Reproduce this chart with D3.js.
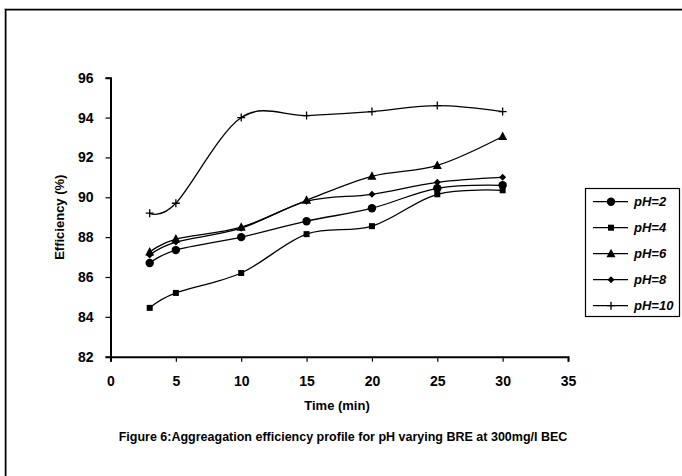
<!DOCTYPE html>
<html><head><meta charset="utf-8">
<script src="https://cdn.jsdelivr.net/npm/d3@7"></script>
<style>body{margin:0;background:#fff}svg{display:block}text{font-family:"Liberation Sans",Arial,sans-serif;font-weight:bold}</style>
</head><body><div id="c"></div>
<script>
const times = [3, 5, 10, 15, 20, 25, 30];
const seriesNames = ["pH=2", "pH=4", "pH=6", "pH=8", "pH=10"];
const ph2  = [86.7, 87.35, 88.0, 88.8, 89.45, 90.45, 90.6];
const ph4  = [84.45, 85.2, 86.2, 88.15, 88.55, 90.15, 90.35];
const ph6  = [87.25, 87.9, 88.5, 89.85, 91.05, 91.6, 93.05];
const ph8  = [87.1, 87.75, 88.45, 89.8, 90.15, 90.75, 91.0];
const ph10 = [89.2, 89.7, 94.0, 94.1, 94.3, 94.6, 94.3];
const xTicks = [0, 5, 10, 15, 20, 25, 30, 35];
const yTicks = [82, 84, 86, 88, 90, 92, 94, 96];
const xTitle = "Time (min)";
const yTitle = "Efficiency  (%)";
const caption = "Figure 6:Aggreagation efficiency profile for pH varying BRE at 300mg/l BEC";
const markers = ["circle", "square", "triangle", "diamond", "plus"];
const seriesValues = [ph2, ph4, ph6, ph8, ph10];

const W = 682, H = 476;
const svg = d3.select("#c").append("svg").attr("width", W).attr("height", H);
svg.append("rect").attr("x", 4.5).attr("y", 8.5).attr("width", 700).attr("height", 500)
  .attr("fill", "none").attr("stroke", "#bbb").attr("stroke-width", 1);
svg.append("rect").attr("x", 5.75).attr("y", 9.75).attr("width", 700).attr("height", 500)
  .attr("fill", "none").attr("stroke", "#000").attr("stroke-width", 1.5);

const x = d3.scaleLinear().domain([0, 35]).range([110.5, 568]);
const y = d3.scaleLinear().domain([82, 96]).range([356.7, 77.7]);

const xAxis = svg.append("g").attr("transform", `translate(0,${y(82)})`)
  .call(d3.axisBottom(x).tickValues(xTicks).tickSize(5).tickPadding(14).tickFormat(d3.format("d")));
const yAxis = svg.append("g").attr("transform", `translate(${x(0)},0)`)
  .call(d3.axisLeft(y).tickValues(yTicks).tickSize(5).tickPadding(12).tickFormat(d3.format("d")));
[xAxis, yAxis].forEach(a => {
  a.select(".domain").attr("stroke", "#000").attr("stroke-width", 2);
  a.selectAll(".tick line").attr("stroke", "#000").attr("stroke-width", 1.2);
  a.selectAll("text").attr("font-size", 14).attr("font-weight", "bold").attr("fill", "#000")
    .attr("font-family", "Liberation Sans, Arial, sans-serif");
});

svg.append("text").attr("x", 337).attr("y", 410).attr("text-anchor", "middle")
  .attr("font-size", 13).text(xTitle);
svg.append("text").attr("transform", `translate(64,${(y(82)+y(96))/2}) rotate(-90)`)
  .attr("text-anchor", "middle").attr("font-size", 13).text(yTitle);
svg.append("text").attr("x", 343).attr("y", 441).attr("text-anchor", "middle")
  .attr("font-size", 12.5).text(caption);

function drawMarker(g, type, cx, cy) {
  if (type === "circle") g.append("circle").attr("cx", cx).attr("cy", cy).attr("r", 4.2).attr("fill", "#000");
  else if (type === "square") g.append("rect").attr("x", cx - 3).attr("y", cy - 3).attr("width", 6).attr("height", 6).attr("fill", "#000");
  else if (type === "triangle") g.append("path").attr("d", `M${cx},${cy-5}L${cx+4.5},${cy+3.5}L${cx-4.5},${cy+3.5}Z`).attr("fill", "#000");
  else if (type === "diamond") g.append("path").attr("d", `M${cx},${cy-3.5}L${cx+3.5},${cy}L${cx},${cy+3.5}L${cx-3.5},${cy}Z`).attr("fill", "#000");
  else if (type === "plus") g.append("path").attr("d", `M${cx-4},${cy}H${cx+4}M${cx},${cy-4}V${cy+4}`).attr("stroke", "#000").attr("stroke-width", 1.3);
}

const line = d3.line().x(d => x(d[0])).y(d => y(d[1])).curve(d3.curveCardinal.tension(0));
seriesValues.forEach((vals, i) => {
  const pts = times.map((t, j) => [t, vals[j]]);
  const g = svg.append("g");
  g.append("path").attr("d", line(pts)).attr("fill", "none").attr("stroke", "#000").attr("stroke-width", 1.3);
  pts.forEach(p => drawMarker(g, markers[i], x(p[0]), y(p[1])));
});

// legend
const lg = svg.append("g");
lg.append("rect").attr("x", 585.5).attr("y", 188.5).attr("width", 94).attr("height", 128)
  .attr("fill", "#fff").attr("stroke", "#000").attr("stroke-width", 1.2);
const legY = d3.scalePoint().domain(seriesNames).range([201.7, 305.7]);
seriesNames.forEach((n, i) => {
  const cy = legY(n);
  lg.append("line").attr("x1", 593).attr("x2", 628).attr("y1", cy).attr("y2", cy)
    .attr("stroke", "#000").attr("stroke-width", 1.3);
  drawMarker(lg, markers[i], 611, cy);
  lg.append("text").attr("x", 634).attr("y", cy + 4.5).attr("font-size", 13)
    .attr("font-style", "italic").text(n);
});
</script></body></html>
